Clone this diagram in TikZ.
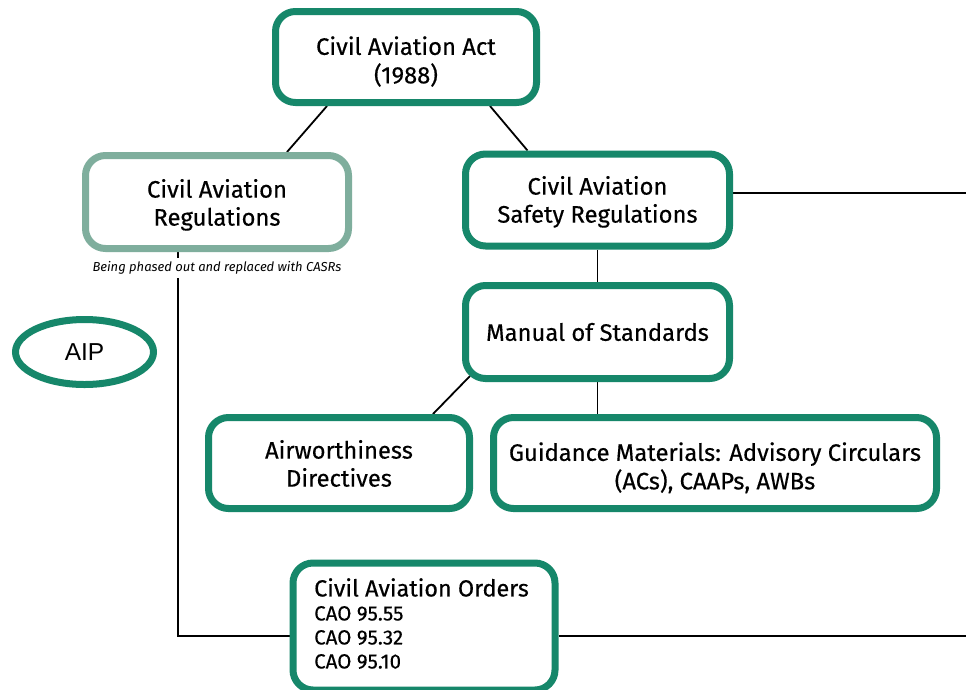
\documentclass[tikz,border=0pt]{standalone}
\usepackage{fontspec}
\setmainfont{Fira Sans}[UprightFeatures={FakeBold=0.4}]
\newfontfamily\aipfont{Liberation Sans}
\usetikzlibrary{calc,backgrounds,shapes.geometric}
\definecolor{boxgreen}{HTML}{16876A}
\definecolor{fadegreen}{HTML}{7FAE9D}
\newcommand\lowtext[2][3pt]{\raisebox{-#1}[\height][\depth]{\begin{tabular}{@{}c@{}}#2\end{tabular}}}
\tikzset{
  box/.style={draw=boxgreen, line width=7pt, rounded corners=20pt, fill=white,
    align=center, inner sep=0pt, font=\fontsize{23.8}{28}\selectfont},
  fadebox/.style={box, draw=fadegreen},
  conn/.style={draw=black, line width=1.8pt},
}
\begin{document}
\begin{tikzpicture}[x=1pt,y=-1pt]
\useasboundingbox (0,0) rectangle (966,689);
\node[box, minimum width=261pt, minimum height=91pt] (act) at (406,57) {\lowtext[6.5pt]{Civil Aviation Act\\(1988)}};
\node[fadebox, minimum width=263pt, minimum height=93pt] (car) at (217,202) {\lowtext[4pt]{Civil Aviation\\Regulations}};
\node[box, minimum width=264pt, minimum height=92pt] (casr) at (597.5,200) {\lowtext[3pt]{Civil Aviation\\Safety Regulations}};
\node[box, minimum width=264pt, minimum height=93pt] (mos) at (597.5,332) {Manual of Standards};
\node[draw=boxgreen, line width=7pt, ellipse, fill=white, minimum width=138pt, minimum height=65pt, inner sep=0pt, font=\aipfont\fontsize{24.5}{28}\selectfont] (aip) at (84.5,352) {AIP};
\node[box, minimum width=261pt, minimum height=91pt] (aw) at (339,463) {\lowtext[4pt]{Airworthiness\\Directives}};
\node[box, minimum width=443pt, minimum height=91pt] (guid) at (715,463) {\lowtext[6.5pt]{Guidance Materials: Advisory Circulars\\(ACs), CAAPs, AWBs}};
\node[box, minimum width=262pt, minimum height=127pt, anchor=north west] (cao) at (289.5,559.5) {};
\node[anchor=north west, align=left, font=\fontsize{20.5}{24}\selectfont, inner sep=0pt] (caotext) at (314,578) {{\fontsize{23.4}{24}\selectfont Civil Aviation Orders}\\CAO 95.55\\CAO 95.32\\CAO 95.10};
\node[fill=white, inner sep=4pt, font=\itshape\fontsize{13}{15}\selectfont] (note) at (217,268) {Being phased out and replaced with CASRs};
\coordinate (rtop) at (966,193);
\coordinate (rbot) at (966,636);
\coordinate (corner) at (178,636);
\begin{scope}[on background layer]
\fill[white] (0,0) rectangle (966,689);
\draw[conn] ($(act.south)+(-79,0)$) -- ($(car.north)+(70,0)$);
\draw[conn] ($(act.south)+(84,0)$) -- ($(casr.north)+(-70,0)$);
\draw[conn] ($(casr.east)+(0,-7)$) -- (rtop);
\draw[conn] (casr.south) -- (mos.north);
\draw[conn] ($(mos.south west)+(8,-6)$) -- ($(aw.north)+(94,0)$);
\draw[conn] (mos.south) -- (guid.north -| mos.south);
\draw[conn] ($(car.south)+(-39,0)$) -- (corner) -- (cao.west |- corner);
\draw[conn] (cao.east |- rbot) -- (rbot);
\end{scope}
\end{tikzpicture}
\end{document}
